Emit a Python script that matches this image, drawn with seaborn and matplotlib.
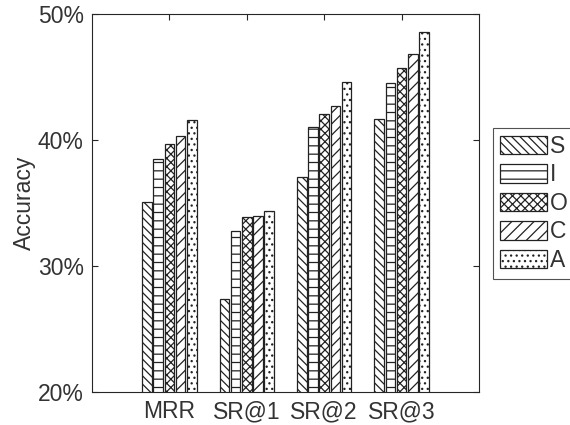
import matplotlib
matplotlib.use("Agg")
import matplotlib.pyplot as plt
import seaborn as sns
import pandas as pd
from matplotlib.patches import Patch
from matplotlib.ticker import FuncFormatter

metrics = ["MRR", "SR@1", "SR@2", "SR@3"]
series = ["S", "I", "O", "C", "A"]
S = [35.1, 27.4, 37.1, 41.7]
I = [38.5, 32.8, 41.0, 44.5]
O = [39.7, 33.9, 42.1, 45.7]
C = [40.3, 34.0, 42.7, 46.8]
A = [41.6, 34.4, 44.6, 48.6]
values = {"S": S, "I": I, "O": O, "C": C, "A": A}
hatches = {"S": "\\\\\\\\", "I": "--", "O": "xxxx", "C": "///", "A": "..."}

rows = []
for s in series:
    for m, v in zip(metrics, values[s]):
        rows.append({"metric": m, "series": s, "value": v})
df = pd.DataFrame(rows)

sns.set_theme(style="white")
plt.rcParams["font.family"] = ["Liberation Sans", "DejaVu Sans"]
plt.rcParams["hatch.linewidth"] = 0.9
txt = "#333333"
fs = 16.5

fig = plt.figure(figsize=(5.7, 4.25), dpi=100)
ax = fig.add_axes([92 / 570, 33 / 425, (479 - 92) / 570, (392 - 14) / 425])

sns.barplot(data=df, x="metric", y="value", hue="series", order=metrics,
            hue_order=series, width=0.725, gap=0.15, ax=ax,
            palette=["white"] * 5, edgecolor="#222222",
            linewidth=0.9, legend=False)

for cont, s in zip(ax.containers, series):
    for bar in cont:
        bar.set_hatch(hatches[s])
        bar.set_facecolor("white")
        bar.set_edgecolor("#222222")

ax.set_xlim(-1, 4)
ax.set_ylim(20, 50)
ax.set_yticks([20, 30, 40, 50])
ax.yaxis.set_major_formatter(FuncFormatter(lambda v, p: f"{int(v)}%"))
ax.set_xlabel("")
ax.set_ylabel("Accuracy", fontsize=fs, color=txt, labelpad=1)
ax.tick_params(axis="both", labelsize=fs, colors="#262626", labelcolor=txt,
               direction="in", length=4, width=0.8, top=True, right=True,
               bottom=True, left=True)
ax.tick_params(axis="x", pad=6)
ax.tick_params(axis="y", pad=6)
for sp in ax.spines.values():
    sp.set_visible(True)
    sp.set_color("#262626")
    sp.set_linewidth(0.8)

handles = [Patch(facecolor="white", edgecolor="#222222", hatch=hatches[s],
                 linewidth=0.9, label=s) for s in series]
leg = fig.legend(handles=handles, loc="upper left",
                 bbox_to_anchor=(493 / 570, 1 - 128 / 425),
                 fontsize=fs, frameon=True, fancybox=False,
                 handlelength=2.05, handleheight=0.85, handletextpad=0.12,
                 labelspacing=0.24, borderpad=0.3, borderaxespad=0.0,
                 labelcolor=txt)
leg.get_frame().set_edgecolor("#262626")
leg.get_frame().set_linewidth(0.8)

fig.savefig("out.png", dpi=100)
